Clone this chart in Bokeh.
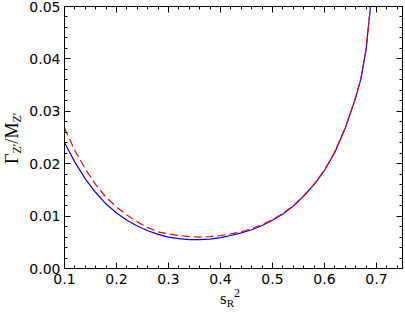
from bokeh.plotting import figure
from bokeh.layouts import column
from bokeh.models import (Range1d, LinearAxis, SingleIntervalTicker, PrintfTickFormatter,
                          CustomJSTickFormatter, Div)
from bokeh.embed import file_html
from bokeh.resources import INLINE

# s_R^2 values and Gamma_Z'/M_Z' for the two curves
x_blue = [0.10, 0.12, 0.14, 0.16, 0.18, 0.20, 0.22, 0.24, 0.26, 0.28, 0.30, 0.32, 0.34,
          0.36, 0.38, 0.40, 0.42, 0.44, 0.46, 0.48, 0.50, 0.52, 0.54, 0.56, 0.58, 0.60,
          0.62, 0.64, 0.66, 0.67, 0.68, 0.69, 0.695]
y_blue = [0.0240, 0.0203, 0.0171, 0.0145, 0.0123, 0.0106, 0.0092, 0.0081, 0.0072, 0.0065,
          0.0060, 0.0057, 0.0055, 0.0055, 0.0056, 0.0059, 0.0063, 0.0068, 0.0074, 0.0082,
          0.0092, 0.0104, 0.0119, 0.0138, 0.0160, 0.0187, 0.0222, 0.0268, 0.0326, 0.0362,
          0.0418, 0.0515, 0.0560]

x_red = [0.10, 0.12, 0.14, 0.16, 0.18, 0.20, 0.22, 0.24, 0.26, 0.28, 0.30, 0.32, 0.34,
         0.36, 0.38, 0.40, 0.42, 0.44, 0.46, 0.48, 0.50, 0.52, 0.54, 0.56, 0.58, 0.60,
         0.62, 0.64, 0.66, 0.67, 0.68, 0.69, 0.695]
y_red = [0.0268, 0.0225, 0.0190, 0.0160, 0.0136, 0.0117, 0.0102, 0.0089, 0.0078, 0.0070,
         0.0066, 0.0063, 0.0061, 0.0060, 0.0061, 0.0063, 0.0066, 0.0070, 0.0076, 0.0084,
         0.0093, 0.0105, 0.0120, 0.0139, 0.0161, 0.0188, 0.0223, 0.0269, 0.0327, 0.0363,
         0.0419, 0.0516, 0.0561]

TICK_FONT = "DejaVu Sans"
LABEL_FONT = "Liberation Serif"

W, H = 405, 316
p = figure(width=W, height=H,
           x_range=Range1d(0.1, 0.75), y_range=Range1d(0.0, 0.05),
           output_backend="svg", toolbar_location=None,
           min_border_left=64, min_border_right=3, min_border_top=6, min_border_bottom=48)
p.background_fill_color = "white"
p.border_fill_color = "white"
p.outline_line_color = "black"
p.grid.visible = False

def style(ax, ticker):
    ax.ticker = ticker
    ax.axis_line_color = "black"
    ax.axis_line_width = 1
    ax.major_tick_in = 6
    ax.major_tick_out = 0
    ax.minor_tick_in = 3
    ax.minor_tick_out = 0
    ax.major_tick_line_color = "black"
    ax.minor_tick_line_color = "black"
    ax.major_label_text_font = TICK_FONT
    ax.major_label_text_font_size = "14px"
    ax.major_label_text_color = "black"

style(p.xaxis[0], SingleIntervalTicker(interval=0.1, num_minor_ticks=5))
style(p.yaxis[0], SingleIntervalTicker(interval=0.01, num_minor_ticks=5))
p.xaxis[0].formatter = PrintfTickFormatter(format="%.1f")
p.yaxis[0].formatter = PrintfTickFormatter(format="%.2f")
p.xaxis[0].major_label_standoff = 5
p.yaxis[0].major_label_standoff = 4

blank = CustomJSTickFormatter(code="return ''")
top = LinearAxis(formatter=blank, major_label_standoff=0)
right = LinearAxis(formatter=blank, major_label_standoff=0)
style(top, SingleIntervalTicker(interval=0.1, num_minor_ticks=5))
style(right, SingleIntervalTicker(interval=0.01, num_minor_ticks=5))
p.add_layout(top, "above")
p.add_layout(right, "right")

p.line(x_blue, y_blue, line_color="#0000ff", line_width=1.2)
p.line(x_red, y_red, line_color="#ff0000", line_width=1.2, line_dash="8 4")

# axis titles with real sub/superscripts, overlaid on the figure's border area
ylabel_html = ("Γ<sub style='font-size:12px;vertical-align:-3px'>Z′</sub>/"
               "M<sub style='font-size:12px;vertical-align:-3px'>Z′</sub>")
xlabel_html = ("s<sub style='font-size:11px;vertical-align:-3px'>R</sub>"
               "<sup style='font-size:12px;vertical-align:7px'>2</sup>")
html = (
    f"<div style='position:relative;width:{W}px;height:{H}px;pointer-events:none;"
    f"font-family:\"{LABEL_FONT}\";color:black;line-height:1'>"
    "<span style='position:absolute;left:3px;top:164px;transform:rotate(-90deg);"
    "transform-origin:0 0;font-size:18px;white-space:nowrap;line-height:1'>"
    + ylabel_html + "</span>"
    "<span style='position:absolute;left:220px;top:287px;font-size:17px;"
    "white-space:nowrap;line-height:1'>" + xlabel_html + "</span>"
    "</div>"
)
labels = Div(text=html, width=W, height=H, margin=(-H, 0, 0, 0),
             styles={"z-index": "5", "pointer-events": "none"})

layout = column(p, labels, spacing=0)
open("out.html", "w").write(file_html(layout, INLINE))
